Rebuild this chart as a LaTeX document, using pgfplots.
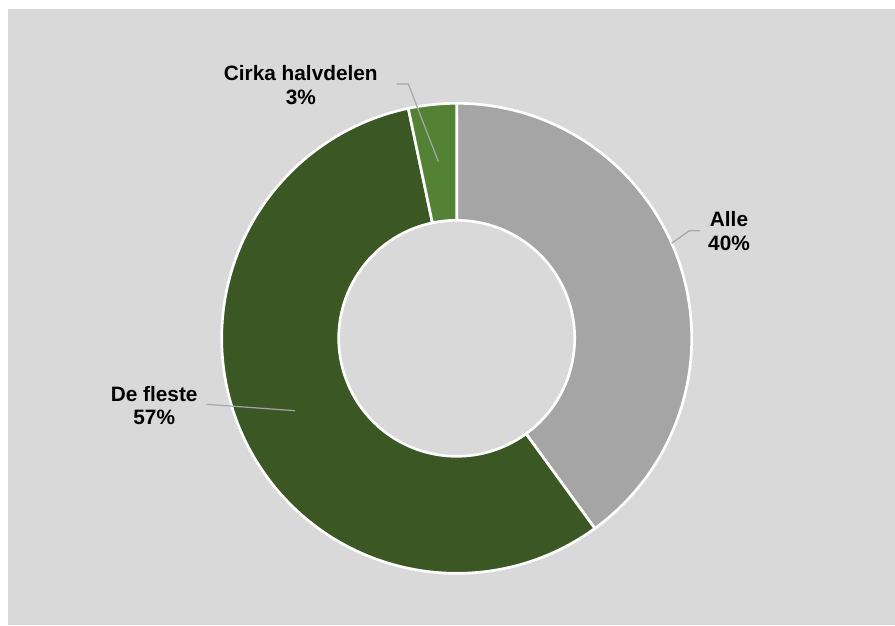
\documentclass[border=0pt]{standalone}
\usepackage{pgfplots}
\pgfplotsset{compat=1.18}
\usepackage{pgfplotstable}
\usepackage{fontspec}
\setmainfont{Liberation Sans}
\definecolor{bg}{HTML}{D9D9D9}
\definecolor{cAlle}{HTML}{A5A5A5}
\definecolor{cFleste}{HTML}{3A5724}
\definecolor{cCirka}{HTML}{548235}
\definecolor{leader}{HTML}{A6A6A6}
\pgfplotstableread{
idx value
0 40.0
1 56.7
2 3.3
}\piedata
\begin{document}
\begin{tikzpicture}
\pgfplotstablegetelem{0}{value}\of\piedata \let\vA\pgfplotsretval
\pgfplotstablegetelem{1}{value}\of\piedata \let\vB\pgfplotsretval
\pgfplotstablegetelem{2}{value}\of\piedata \let\vC\pgfplotsretval
\pgfmathsetmacro\tot{\vA+\vB+\vC}
\pgfmathsetmacro\aA{90}
\pgfmathsetmacro\aB{90-(\vA/\tot)*360}
\pgfmathsetmacro\aC{\aB-(\vB/\tot)*360}
\pgfmathsetmacro\aD{\aC-(\vC/\tot)*360}
\def\Ro{176.25pt}
\def\Ri{88.5pt}
\begin{axis}[name=ax, scale only axis, width=671.25pt, height=468.75pt,
  xmin=0, xmax=895, ymin=0, ymax=625, y dir=reverse, hide axis, clip=false]
\fill[white] (axis cs:0,0) rectangle (axis cs:895,625);
\fill[bg] (axis cs:8,9) rectangle (axis cs:895,625);
\begin{scope}[shift={(axis cs:456.7,338.3)}]
\filldraw[fill=cAlle, draw=white, line width=2pt, line join=round]
  (\aA:\Ro) arc[start angle=\aA, end angle=\aB, radius=\Ro]
  -- (\aB:\Ri) arc[start angle=\aB, end angle=\aA, radius=\Ri] -- cycle;
\filldraw[fill=cFleste, draw=white, line width=2pt, line join=round]
  (\aB:\Ro) arc[start angle=\aB, end angle=\aC, radius=\Ro]
  -- (\aC:\Ri) arc[start angle=\aC, end angle=\aB, radius=\Ri] -- cycle;
\filldraw[fill=cCirka, draw=white, line width=2pt, line join=round]
  (\aC:\Ro) arc[start angle=\aC, end angle=\aD, radius=\Ro]
  -- (\aD:\Ri) arc[start angle=\aD, end angle=\aC, radius=\Ri] -- cycle;
\end{scope}
\draw[leader, line width=0.9pt] (axis cs:396.7,84) -- (axis cs:408.3,84) -- (axis cs:438.3,161.5);
\draw[leader, line width=0.9pt] (axis cs:671.7,243.3) -- (axis cs:689.3,230.7) -- (axis cs:700,230.7);
\draw[leader, line width=0.9pt] (axis cs:206.7,404.3) -- (axis cs:295,410.7);
\begin{scope}[every node/.style={inner sep=0pt, anchor=base, font=\fontsize{15.6}{18}\selectfont\bfseries}]
\node at (axis cs:300.8,80.7) {Cirka halvdelen};
\node at (axis cs:300.8,104) {3\%};
\node at (axis cs:729,226) {Alle};
\node at (axis cs:729,250) {40\%};
\node at (axis cs:154.2,401) {De fleste};
\node at (axis cs:154.2,424.3) {57\%};
\end{scope}
\end{axis}
\pgfresetboundingbox
\path[use as bounding box] (ax.south west) rectangle (ax.north east);
\end{tikzpicture}
\end{document}
